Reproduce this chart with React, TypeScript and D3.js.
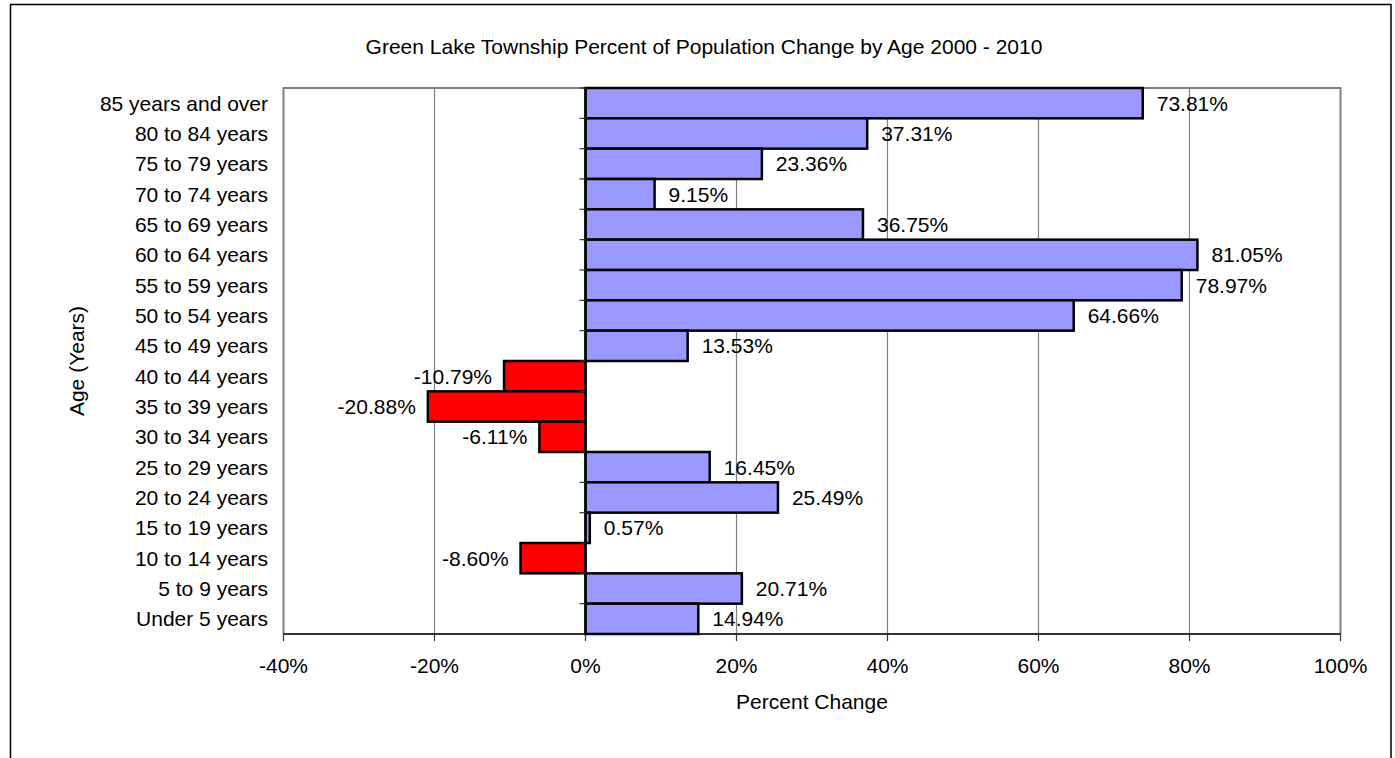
import React from 'react';
import * as d3 from 'd3';

// Age groups, top to bottom as drawn
const ageGroups = [
  '85 years and over', '80 to 84 years', '75 to 79 years', '70 to 74 years',
  '65 to 69 years', '60 to 64 years', '55 to 59 years', '50 to 54 years',
  '45 to 49 years', '40 to 44 years', '35 to 39 years', '30 to 34 years',
  '25 to 29 years', '20 to 24 years', '15 to 19 years', '10 to 14 years',
  '5 to 9 years', 'Under 5 years',
];

// Percent change 2000 - 2010
const pctChange = [
  73.81, 37.31, 23.36, 9.15, 36.75, 81.05, 78.97, 64.66, 13.53,
  -10.79, -20.88, -6.11, 16.45, 25.49, 0.57, -8.6, 20.71, 14.94,
];

const xTicks = [-40, -20, 0, 20, 40, 60, 80, 100];

const W = 1395;
const H = 758;
const plot = { left: 283.5, right: 1340.5, top: 88, bottom: 634 };
const font = '"Liberation Sans", Arial, sans-serif';

const App = () => {
  const x = d3.scaleLinear().domain([-40, 100]).range([plot.left, plot.right]);
  const y = d3.scaleBand().domain(ageGroups).range([plot.top, plot.bottom]).padding(0);
  const x0 = x(0);
  const bw = y.bandwidth();

  return (
    <svg width={W} height={H} style={{ position: 'absolute', left: 0, top: 0, background: '#fff' }} fontFamily={font}>
      {/* outer chart border */}
      <rect x={10.5} y={4.5} width={1380.5} height={800} fill="#fff" stroke="#000" strokeWidth={1.5} />

      <text x={704} y={54} textAnchor="middle" fontSize={21} fill="#000">
        Green Lake Township Percent of Population Change by Age 2000 - 2010
      </text>

      {/* gridlines */}
      {xTicks.slice(1, -1).map(t => (
        <line key={'g' + t} x1={x(t)} x2={x(t)} y1={plot.top} y2={plot.bottom} stroke="#808080" strokeWidth={1.2} />
      ))}
      {/* plot area border */}
      <rect x={plot.left} y={plot.top} width={plot.right - plot.left} height={plot.bottom - plot.top}
        fill="none" stroke="#808080" strokeWidth={2} />

      {/* bottom axis */}
      <line x1={plot.left} x2={plot.right} y1={plot.bottom} y2={plot.bottom} stroke="#333" strokeWidth={2} />
      {xTicks.map(t => (
        <g key={'t' + t}>
          <line x1={x(t)} x2={x(t)} y1={plot.bottom} y2={plot.bottom + 7} stroke="#333" strokeWidth={1.2} />
          <text x={x(t)} y={673} textAnchor="middle" fontSize={21} fill="#000">{t}%</text>
        </g>
      ))}
      <text x={812} y={709} textAnchor="middle" fontSize={21} fill="#000">Percent Change</text>

      {/* bars */}
      {ageGroups.map((g, i) => {
        const v = pctChange[i];
        const xa = Math.min(x(v), x0);
        const w = Math.abs(x(v) - x0);
        return (
          <rect key={g} x={xa} y={y(g)} width={w} height={bw}
            fill={v < 0 ? '#FF0000' : '#9999FF'} stroke="#000" strokeWidth={2.5} />
        );
      })}

      {/* zero axis with category ticks */}
      <line x1={x0} x2={x0} y1={plot.top} y2={plot.bottom} stroke="#000" strokeWidth={2} />
      {ageGroups.map(g => (
        <line key={'yt' + g} x1={x0 - 6} x2={x0} y1={y(g)} y2={y(g)} stroke="#333" strokeWidth={1.2} />
      ))}

      {/* category labels */}
      {ageGroups.map(g => (
        <text key={'l' + g} x={268} y={y(g) + bw / 2} dy="0.35em" textAnchor="end" fontSize={21} fill="#000">{g}</text>
      ))}

      {/* value labels */}
      {ageGroups.map((g, i) => {
        const v = pctChange[i];
        return (
          <text key={'v' + g} x={v < 0 ? x(v) - 12 : x(v) + 14} y={y(g) + bw / 2} dy="0.35em"
            textAnchor={v < 0 ? 'end' : 'start'} fontSize={21} fill="#000">
            {v.toFixed(2)}%
          </text>
        );
      })}

      <text transform={`translate(84, ${(plot.top + plot.bottom) / 2}) rotate(-90)`} textAnchor="middle"
        fontSize={21} fill="#000">Age (Years)</text>
    </svg>
  );
};

export default App;
